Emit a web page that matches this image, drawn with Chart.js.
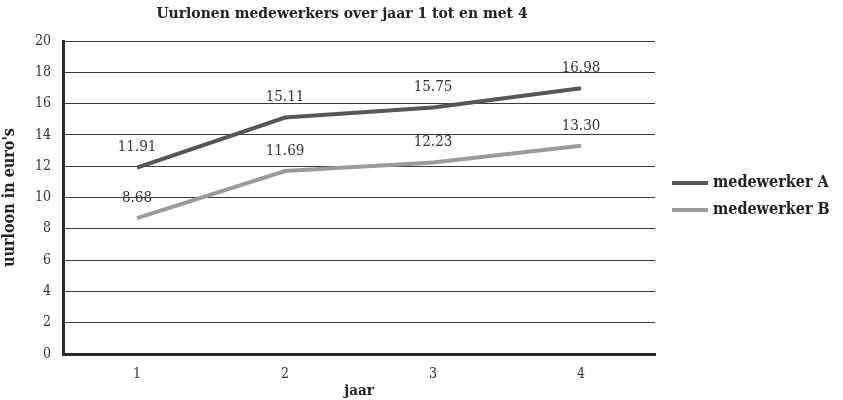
<!DOCTYPE html>
<html>
<head>
<meta charset="utf-8">
<script src="https://cdn.jsdelivr.net/npm/chart.js@4"></script>
<style>
  html, body { margin: 0; padding: 0; background: #fff; }
  #wrap { width: 843px; height: 400px; }
</style>
</head>
<body>
<div id="wrap"><canvas id="chart"></canvas></div>
<script>
// Hourly wages, years 1 to 4
const years = ['1', '2', '3', '4'];
const wagesA = [11.91, 15.11, 15.75, 16.98];
const wagesB = [8.68, 11.69, 12.23, 13.30];
const seriesNames = ['medewerker A', 'medewerker B'];
const seriesColors = ['#565656', '#9b9b9b'];

const FONT = '"DejaVu Serif Condensed", "DejaVu Serif", serif';

// Title, value labels and right-hand legend
const extras = {
  id: 'extras',
  afterDatasetsDraw(chart) {
    const ctx = chart.ctx;
    ctx.save();
    ctx.fillStyle = '#333';
    ctx.font = '15px ' + FONT;
    ctx.textAlign = 'center';
    ctx.textBaseline = 'middle';
    chart.data.datasets.forEach((ds, i) => {
      chart.getDatasetMeta(i).data.forEach((pt, j) => {
        ctx.fillText(ds.data[j].toFixed(2), pt.x, pt.y - 20);
      });
    });

    ctx.fillStyle = '#222';
    ctx.font = 'bold 15.5px ' + FONT;
    ctx.fillText('Uurlonen medewerkers over jaar 1 tot en met 4', 342, 14);

    const area = chart.chartArea;
    ctx.textAlign = 'left';
    chart.data.datasets.forEach((ds, i) => {
      const y = 183 + i * 27;
      ctx.strokeStyle = ds.borderColor;
      ctx.lineWidth = 4;
      ctx.beginPath();
      ctx.moveTo(area.right + 17, y);
      ctx.lineTo(area.right + 53, y);
      ctx.stroke();
      ctx.fillStyle = '#222';
      ctx.font = 'bold 16px ' + FONT;
      ctx.fillText(ds.label, area.right + 58, y);
    });
    ctx.restore();
  }
};

new Chart(document.getElementById('chart'), {
  type: 'line',
  data: {
    labels: years,
    datasets: [
      { label: seriesNames[0], data: wagesA, borderColor: seriesColors[0], backgroundColor: seriesColors[0] },
      { label: seriesNames[1], data: wagesB, borderColor: seriesColors[1], backgroundColor: seriesColors[1] }
    ]
  },
  options: {
    responsive: true,
    maintainAspectRatio: false,
    animation: false,
    layout: { padding: { top: 41, right: 188, left: 0, bottom: 0 } },
    elements: {
      line: { borderWidth: 4, tension: 0 },
      point: { radius: 0, hoverRadius: 0 }
    },
    plugins: {
      legend: { display: false },
      title: { display: false },
      tooltip: { enabled: false }
    },
    scales: {
      x: {
        offset: true,
        afterFit(scale) { scale.height = 46; },
        grid: { display: false, drawTicks: false },
        border: { color: '#2a2a2a', width: 3 },
        ticks: { color: '#333', font: { family: FONT, size: 14 }, padding: 12 },
        title: { display: true, text: 'jaar', color: '#222', font: { family: FONT, size: 15, weight: 'bold' }, padding: { top: 0, bottom: 0 } }
      },
      y: {
        min: 0,
        max: 20,
        afterFit(scale) { scale.width = 63; },
        grid: { color: '#3a3a3a', lineWidth: 1, drawTicks: false },
        border: { color: '#2a2a2a', width: 3 },
        ticks: { stepSize: 2, color: '#333', font: { family: FONT, size: 14 }, padding: 12 },
        title: { display: true, text: "uurloon in euro's", color: '#222', font: { family: FONT, size: 16, weight: 'bold' }, padding: { top: 0, bottom: 0 } }
      }
    }
  },
  plugins: [extras]
});
</script>
</body>
</html>
